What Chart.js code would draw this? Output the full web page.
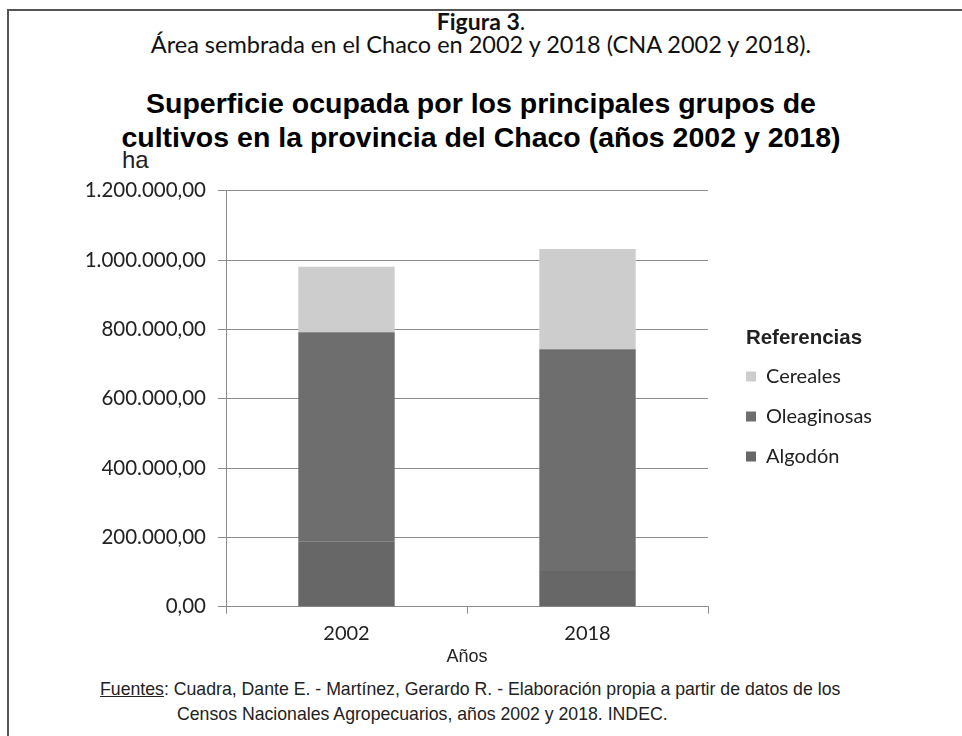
<!DOCTYPE html>
<html>
<head>
<meta charset="utf-8">
<script src="https://cdn.jsdelivr.net/npm/chart.js@4"></script>
<style>
  body { margin: 0; width: 962px; height: 736px; background: #fff; overflow: hidden; position: relative; }
  .frame { position: absolute; left: 7px; top: 9px; width: 1000px; height: 1000px; border-top: 2px solid #555; border-left: 2px solid #555; }
  .t { position: absolute; white-space: nowrap; color: #111; }
  .fig { left: 0; width: 962px; text-align: center; top: 7px; font: 23px Lato, sans-serif; }
  .fig b { font-weight: 700; }
  .sub { left: 0; width: 962px; text-align: center; top: 30px; font: 23.5px Lato, sans-serif; }
  .title { left: 0; width: 962px; text-align: center; top: 86px; font: bold 28.5px "Liberation Sans", Arial, sans-serif; line-height: 34px; color: #000; }
  .ha { left: 122px; top: 146px; font: 24px "Liberation Sans Narrow", "Liberation Sans", sans-serif; color: #222; }
  .src { left: 100px; top: 677px; font: 17.7px "Liberation Sans Narrow", "Liberation Sans", sans-serif; line-height: 25px; color: #222; }
  .src u { text-decoration: underline; }
  #wrap { position: absolute; left: 60px; top: 180px; width: 880px; height: 490px; }
</style>
</head>
<body>
<div class="frame"></div>
<div class="t fig"><b>Figura 3</b>.</div>
<div class="t sub">Área sembrada en el Chaco en 2002 y 2018 (CNA 2002 y 2018).</div>
<div class="t title">Superficie ocupada por los principales grupos de<br>cultivos en la provincia del Chaco (años 2002 y 2018)</div>
<div class="t ha">ha</div>
<div class="t src"><u>Fuentes</u>: Cuadra, Dante E. - Martínez, Gerardo R. - Elaboración propia a partir de datos de los<br><span style="padding-left:77px">Censos Nacionales Agropecuarios, años 2002 y 2018. INDEC.</span></div>
<div id="wrap"><canvas id="chart"></canvas></div>
<script>
const years = ["2002", "2018"];
const algodon = [187500, 103000];
const oleaginosas = [604000, 639500];
const cereales = [189300, 289300];
const yTicks = [0, 200000, 400000, 600000, 800000, 1000000, 1200000];

function fmt(v) {
    const s = Math.round(v).toString().replace(/\B(?=(\d{3})+(?!\d))/g, ".");
    return s + ",00";
}

// where the plot area / legend sit inside the canvas
const AREA_RIGHT = 648;
const LEGEND_X = 686;
const LEGEND_TOP = 148;

const legendShift = {
    id: "legendShift",
    afterLayout(chart) {
        const lg = chart.legend;
        const w = lg.right - lg.left;
        const h = lg.bottom - lg.top;
        lg.left = LEGEND_X - lg.options.labels.padding;
        lg.right = lg.left + w;
        lg.top = LEGEND_TOP;
        lg.bottom = lg.top + h;
    }
};

const chart = new Chart(document.getElementById("chart"), {
    type: "bar",
    data: {
        labels: years,
        datasets: [
            { label: "Algodón", data: algodon, backgroundColor: "#676767" },
            { label: "Oleaginosas", data: oleaginosas, backgroundColor: "#6e6e6e" },
            { label: "Cereales", data: cereales, backgroundColor: "#cdcdcd" }
        ]
    },
    options: {
        responsive: true,
        maintainAspectRatio: false,
        animation: false,
        layout: { padding: { top: 10.7, right: 0, bottom: 0, left: 0 } },
        datasets: { bar: { barPercentage: 0.4, categoryPercentage: 1, borderWidth: 0 } },
        plugins: {
            tooltip: { enabled: false },
            legend: {
                position: "right",
                align: "start",
                reverse: true,
                title: {
                    display: true,
                    text: "Referencias",
                    align: "start",
                    color: "#222",
                    font: { family: "'Liberation Sans', Arial, sans-serif", size: 20.5, weight: "bold", lineHeight: 1 },
                    padding: { top: 0, bottom: -2 }
                },
                labels: {
                    boxWidth: 10,
                    boxHeight: 10,
                    padding: 20,
                    color: "#222",
                    font: { family: "Lato, sans-serif", size: 20 }
                }
            }
        },
        scales: {
            x: {
                stacked: true,
                grid: { display: true, drawOnChartArea: false, color: "#8c8c8c", tickLength: 7, offset: true },
                border: { color: "#8c8c8c" },
                ticks: { color: "#222", font: { family: "Lato, sans-serif", size: 20 }, padding: 8 },
                title: {
                    display: true,
                    text: "Años",
                    color: "#222",
                    font: { family: "'Liberation Sans Narrow', 'Liberation Sans', sans-serif", size: 18 },
                    padding: { top: 0, bottom: 2 }
                },
                afterFit(scale) { scale.height = 63.3; scale.paddingTop = 0; scale.paddingBottom = 0; }
            },
            y: {
                stacked: true,
                min: 0,
                max: 1200000,
                afterBuildTicks(scale) { scale.ticks = yTicks.map(v => ({ value: v })); },
                grid: { color: "#8c8c8c", tickLength: 8 },
                border: { color: "#8c8c8c" },
                ticks: {
                    color: "#222",
                    padding: 12,
                    font: { family: "Lato, sans-serif", size: 20.5 },
                    callback: v => fmt(v)
                },
                afterFit(scale) { scale.width = 166; scale.paddingTop = 0; scale.paddingBottom = 0; }
            }
        }
    },
    plugins: [legendShift]
});

// push the legend out until the plot area ends where it should
const diff = chart.chartArea.right - AREA_RIGHT;
if (Math.abs(diff) > 0.5) {
    chart.options.layout.padding.right += diff;
    chart.update();
}
</script>
</body>
</html>
